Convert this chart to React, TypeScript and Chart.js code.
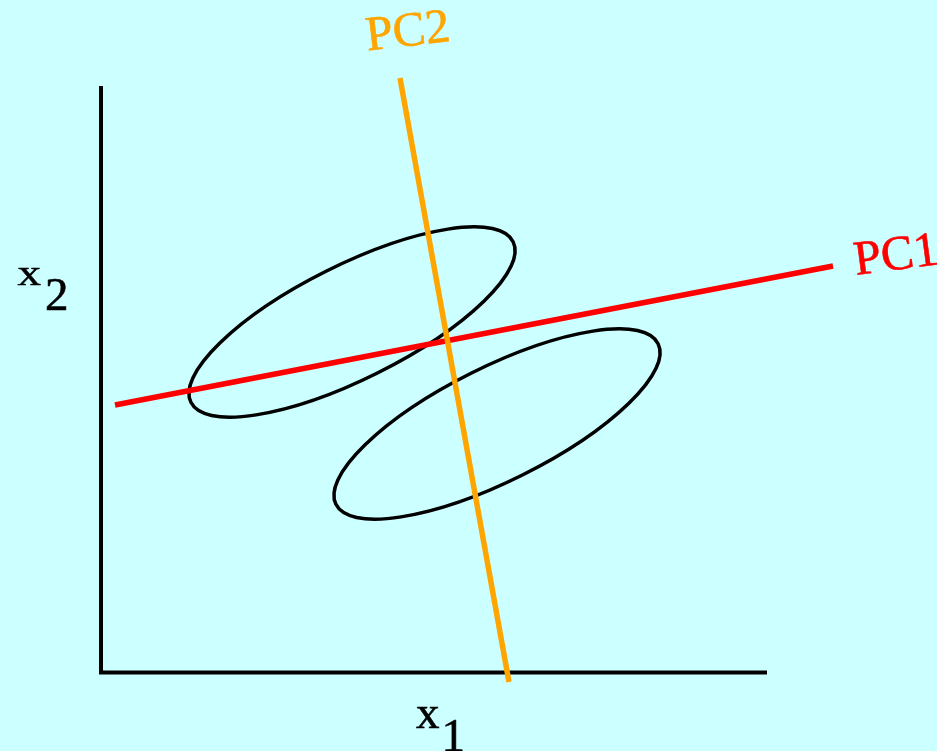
import React, { useEffect, useRef } from "react";
import { Chart, registerables } from "chart.js";

Chart.register(...registerables);

// Plot frame (coordinates in picture units, y grows downward)
const xRange = [0, 937];
const yRange = [0, 751];

// Axes (L shape)
const axisX = [101, 101, 767];
const axisY = [86, 672.5, 672.5];

// Principal component lines
const pc1X = [115, 833];
const pc1Y = [405, 266];
const pc2X = [400, 509];
const pc2Y = [78, 682];

// Two clusters as ellipses
const ellipseCX = [352, 497];
const ellipseCY = [322, 424];
const ellipseA = [180, 180];
const ellipseB = [57, 57];
const ellipseAngle = [-26.5, -26.5];

// Text labels
const labelText = ["PC2", "PC1", "x", "2", "x", "1"];
const labelX = [367.5, 856, 17.5, 45, 416, 441.5];
const labelY = [50.5, 275, 285, 310, 728, 751];
const labelColor = ["#FFA500", "#FF0000", "#000000", "#000000", "#000000", "#000000"];
const labelSize = [49, 49, 47, 47, 47, 47];
const labelAngle = [-6.5, -7.5, 0, 0, 0, 0];
const labelScaleY = [1, 1, 0.75, 1, 1, 1];

const toPts = (xs: number[], ys: number[]) => xs.map((x, i) => ({ x, y: ys[i] }));

const ellipsePlugin = {
  id: "ellipses",
  beforeDatasetsDraw(chart: any) {
    const { ctx, scales } = chart;
    const xs = scales.x;
    const ys = scales.y;
    ctx.save();
    ctx.strokeStyle = "#000000";
    ctx.lineWidth = 3.5;
    for (let i = 0; i < ellipseCX.length; i++) {
      const px = xs.getPixelForValue(ellipseCX[i]);
      const py = ys.getPixelForValue(ellipseCY[i]);
      const rx = Math.abs(xs.getPixelForValue(ellipseCX[i] + ellipseA[i]) - px);
      const ry = Math.abs(ys.getPixelForValue(ellipseCY[i] + ellipseB[i]) - py);
      ctx.beginPath();
      ctx.ellipse(px, py, rx, ry, (ellipseAngle[i] * Math.PI) / 180, 0, Math.PI * 2);
      ctx.stroke();
    }
    ctx.restore();
  },
};

const labelPlugin = {
  id: "labels",
  afterDatasetsDraw(chart: any) {
    const { ctx, scales } = chart;
    for (let i = 0; i < labelText.length; i++) {
      const px = scales.x.getPixelForValue(labelX[i]);
      const py = scales.y.getPixelForValue(labelY[i]);
      ctx.save();
      ctx.translate(px, py);
      ctx.rotate((labelAngle[i] * Math.PI) / 180);
      ctx.scale(1, labelScaleY[i]);
      ctx.font = `${labelSize[i]}px "Liberation Serif", "Times New Roman", serif`;
      ctx.fillStyle = labelColor[i];
      ctx.strokeStyle = labelColor[i];
      ctx.lineWidth = 0.6;
      ctx.textAlign = "left";
      ctx.textBaseline = "alphabetic";
      ctx.fillText(labelText[i], 0, 0);
      ctx.strokeText(labelText[i], 0, 0);
      ctx.restore();
    }
  },
};

export default function App() {
  const canvasRef = useRef<HTMLCanvasElement | null>(null);

  useEffect(() => {
    document.body.style.margin = "0";
    document.body.style.background = "#CCFFFF";
    const canvas = canvasRef.current;
    if (!canvas) return;
    const chart = new Chart(canvas, {
      type: "scatter",
      data: {
        datasets: [
          {
            label: "PC2",
            data: toPts(pc2X, pc2Y),
            showLine: true,
            borderColor: "#FFA500",
            borderWidth: 5.5,
            pointRadius: 0,
            order: 0,
          },
          {
            label: "PC1",
            data: toPts(pc1X, pc1Y),
            showLine: true,
            borderColor: "#FF0000",
            borderWidth: 5.5,
            pointRadius: 0,
            order: 1,
          },
          {
            label: "axes",
            data: toPts(axisX, axisY),
            showLine: true,
            borderColor: "#000000",
            borderWidth: 4,
            borderJoinStyle: "miter",
            borderCapStyle: "butt",
            pointRadius: 0,
            order: 2,
          },
        ],
      },
      options: {
        responsive: false,
        maintainAspectRatio: false,
        animation: false,
        events: [],
        layout: { padding: 0 },
        plugins: { legend: { display: false }, tooltip: { enabled: false } },
        scales: {
          x: { type: "linear", min: xRange[0], max: xRange[1], display: false },
          y: { type: "linear", min: yRange[0], max: yRange[1], reverse: true, display: false },
        },
      },
      plugins: [ellipsePlugin, labelPlugin],
    });
    return () => chart.destroy();
  }, []);

  return (
    <div
      style={{
        position: "fixed",
        left: 0,
        top: 0,
        width: 937,
        height: 751,
        background: "#CCFFFF",
      }}
    >
      <canvas ref={canvasRef} width={937} height={751} style={{ display: "block" }} />
    </div>
  );
}
